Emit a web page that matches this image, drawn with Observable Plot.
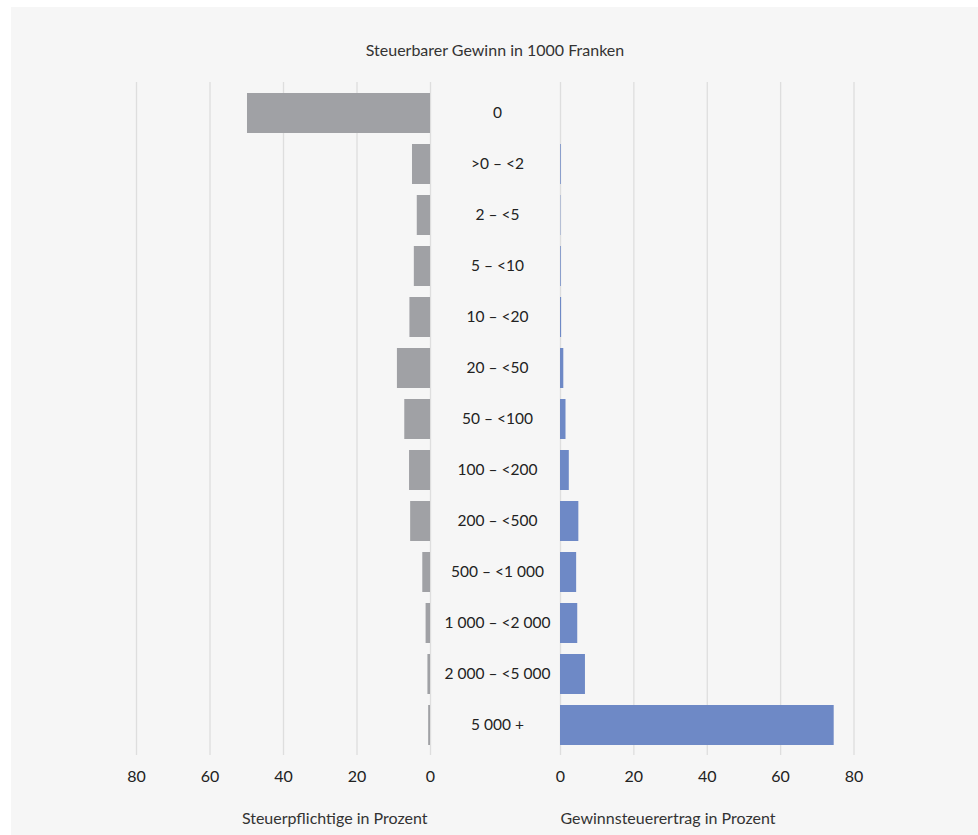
<!DOCTYPE html>
<html>
<head>
<meta charset="utf-8">
<script src="https://cdn.jsdelivr.net/npm/d3@7"></script>
<script src="https://cdn.jsdelivr.net/npm/@observablehq/plot@0.6"></script>
<style>
  html, body { margin: 0; padding: 0; background: #ffffff; }
  #wrap { position: relative; width: 978px; height: 835px; overflow: hidden; }
  #bg { position: absolute; left: 11px; top: 7px; width: 967px; height: 828px; background: #f6f6f6; }
  #title { position: absolute; left: 0; width: 990px; top: 40px; text-align: center;
           font-family: Lato, sans-serif; font-size: 16px; color: #333; }
  #left, #right { position: absolute; top: 0; }
  #left { left: 0; }
  #right { left: 430px; }
  svg { background: transparent !important; }
</style>
</head>
<body>
<div id="wrap">
  <div id="bg"></div>
  <div id="title">Steuerbarer Gewinn in 1000 Franken</div>
  <div id="left"></div>
  <div id="right"></div>
</div>
<script>
const categories = ["0", ">0 – <2", "2 – <5", "5 – <10", "10 – <20", "20 – <50", "50 – <100", "100 – <200", "200 – <500", "500 – <1 000", "1 000 – <2 000", "2 000 – <5 000", "5 000 +"];
const steuerpflichtige = [49.8, 4.9, 3.6, 4.4, 5.6, 9.0, 7.0, 5.7, 5.4, 2.1, 1.2, 0.7, 0.5];
const gewinnsteuerertrag = [0, 0.2, 0.1, 0.2, 0.3, 0.9, 1.5, 2.4, 5.0, 4.4, 4.7, 6.8, 74.6];
const ticks = [0, 20, 40, 60, 80];
const leftLabel = "Steuerpflichtige in Prozent";
const rightLabel = "Gewinnsteuerertrag in Prozent";

const leftData = categories.map((c, i) => ({cat: c, v: steuerpflichtige[i]}));
const rightData = categories.map((c, i) => ({cat: c, v: gewinnsteuerertrag[i]}));

const font = "Lato, sans-serif";
const common = {
  height: 835,
  marginTop: 82,
  marginBottom: 80,
  style: {background: "transparent", fontFamily: font, fontSize: "16px", color: "#222", overflow: "visible"},
  y: {domain: categories, paddingInner: 0.225, paddingOuter: 0.21, axis: null}
};

const left = Plot.plot({
  ...common,
  width: 430,
  marginLeft: 136,
  marginRight: 0,
  x: {domain: [0, 80], reverse: true, ticks: ticks},
  marks: [
    Plot.ruleX(ticks, {stroke: "#dedede", strokeWidth: 1.3}),
    Plot.barX(leftData, {x: "v", y: "cat", fill: "#a0a1a5"}),
    Plot.axisX({ticks: ticks, tickSize: 0, tickPadding: 15, label: null, fontSize: 16, fill: "#222"}),
    Plot.text([leftLabel], {frameAnchor: "bottom-right", dy: 63, dx: -3, lineAnchor: "middle", textAnchor: "end", fontSize: 16, fill: "#333"})
  ]
});

const right = Plot.plot({
  ...common,
  width: 548,
  marginLeft: 130,
  marginRight: 124.5,
  x: {domain: [0, 80], ticks: ticks},
  marks: [
    Plot.ruleX(ticks, {stroke: "#dedede", strokeWidth: 1.3}),
    Plot.barX(rightData, {x: "v", y: "cat", fill: "#6e89c6"}),
    Plot.text(categories, {y: d => d, frameAnchor: "left", dx: -63, textAnchor: "middle", fontSize: 15.5, fill: "#222"}),
    Plot.axisX({ticks: ticks, tickSize: 0, tickPadding: 15, label: null, fontSize: 16, fill: "#222"}),
    Plot.text([rightLabel], {frameAnchor: "bottom-left", dy: 63, dx: 0, lineAnchor: "middle", textAnchor: "start", fontSize: 16, fill: "#333"})
  ]
});

document.getElementById("left").appendChild(left);
document.getElementById("right").appendChild(right);
</script>
</body>
</html>
